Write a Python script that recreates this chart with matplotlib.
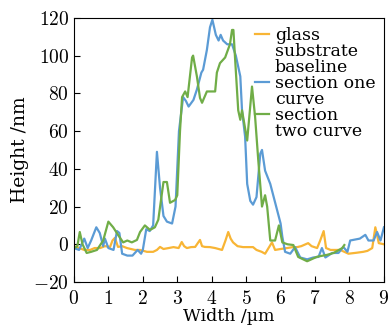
import matplotlib
matplotlib.use("Agg")
import matplotlib.pyplot as plt
from matplotlib.lines import Line2D

plt.rcParams['font.family'] = ['cmr10', 'DejaVu Serif']
plt.rcParams['mathtext.fontset'] = 'cm'
plt.rcParams['axes.formatter.use_mathtext'] = True

# glass substrate baseline
glass_x = [0, 0.15, 0.3, 0.47, 0.6, 0.76, 0.9, 1.05, 1.12, 1.19, 1.28, 1.4, 1.54, 1.77,
           1.92, 2.12, 2.3, 2.41, 2.5, 2.6, 2.75, 2.89, 3.04, 3.13, 3.2, 3.28, 3.4, 3.52,
           3.66, 3.72, 3.8, 3.95, 4.1, 4.3, 4.4, 4.48, 4.55, 4.62, 4.75, 4.91, 5.05, 5.2,
           5.3, 5.45, 5.55, 5.65, 5.75, 5.84, 6.0, 6.19, 6.35, 6.48, 6.6, 6.8, 6.9, 7.06,
           7.15, 7.25, 7.32, 7.45, 7.6, 7.73, 7.85, 7.97, 8.2, 8.4, 8.52, 8.66, 8.75, 8.8,
           8.85, 9.0]
glass_y = [-1, -2, -3, -3, -2, -2, -1, -1.4, 2, 3.4, -1.4, -1, -2, -3,
           -3, -4, -4, -3, -1.4, -2.5, -2, -1.5, -2, 1.2, -1, -2, -1.5, -1.4,
           2.3, -1, -1.4, -1.5, -2, -3, 2, 6.5, 3, 1, -1, -1.5, -1.5, -1.5,
           -3, -4, -5, -2, 1, -3, -2.5, -2, -1.5, -1.5, -1, 0.6, -1, -2,
           2, 7, -2, -3, -3, -3, -4, -5, -4.5, -4, -3.5, -2, 9, 5,
           0.6, 0]

# section one curve
one_x = [0, 0.15, 0.3, 0.4, 0.5, 0.65, 0.75, 0.85, 0.9, 1.0, 1.15, 1.25, 1.32, 1.4,
         1.55, 1.7, 1.85, 1.95, 2.0, 2.1, 2.2, 2.3, 2.41, 2.5, 2.6, 2.7, 2.85, 2.95,
         3.05, 3.17, 3.25, 3.33, 3.47, 3.57, 3.7, 3.75, 3.86, 3.95, 4.02, 4.12, 4.2,
         4.26, 4.33, 4.45, 4.59, 4.7, 4.83, 4.88, 4.97, 5.03, 5.12, 5.2, 5.3, 5.41,
         5.46, 5.55, 5.7, 5.9, 6.0, 6.05, 6.13, 6.28, 6.42, 6.57, 6.77, 6.95, 7.1, 7.2,
         7.3, 7.5, 7.68, 7.82, 7.94, 8.02, 8.3, 8.46, 8.55, 8.7, 8.8, 8.9, 9.0]
one_y = [-2, -3, 3, -2, 2, 9, 6, -1, 3, -2, -3, 7, 6, -5,
         -6, -6, -3, -5, -3, 8, 7, 10, 49, 30, 15, 12, 11, 20,
         60, 78, 76, 73, 76.5, 82, 91, 92.5, 103, 115, 119, 111, 108,
         111, 108, 106, 106, 100, 89, 71, 57, 32, 23, 21, 25, 48,
         50, 39, 32, 18, 11, 4, -4, -5, -1.5, -7, -8, -7, -6.7, -2,
         -7, -4.6, -4.6, -1.4, -4, 2, 3, 5, 2, 2, 6.5, 2, 9]

# section two curve
two_x = [0, 0.1, 0.17, 0.25, 0.37, 0.5, 0.67, 0.85, 1.0, 1.14, 1.28, 1.43, 1.55, 1.68,
         1.83, 1.92, 2.06, 2.21, 2.35, 2.45, 2.6, 2.7, 2.79, 2.94, 3.0, 3.08, 3.14, 3.23,
         3.3, 3.43, 3.46, 3.57, 3.66, 3.72, 3.86, 4.1, 4.15, 4.24, 4.39, 4.53, 4.59,
         4.63, 4.68, 4.77, 4.83, 4.88, 5.03, 5.17, 5.26, 5.35, 5.46, 5.55, 5.61, 5.7,
         5.84, 5.95, 6.05, 6.2, 6.37, 6.51, 6.77, 7.06, 7.35, 7.54, 7.79, 7.85]
two_y = [-2, -1, 6.5, 0, -4.6, -4, -3, 2, 12, 9, 5, 1, 2, 1,
         2.3, 6.5, 10, 7.6, 9, 13, 33, 33, 22, 23.5, 26, 60, 78, 81,
         78, 99, 100, 89, 77.6, 75, 81, 81, 91, 96, 99, 106, 113.6,
         113.6, 98, 71, 66, 71, 55, 83.6, 67.5, 45, 20, 26, 20, 2,
         2, 10, 1, 0, -0.4, -6.7, -9, -6.6, -5.6, -4.6, -2, -0.4]

legend_lines = [['glass', 'substrate', 'baseline'],
                ['section one', 'curve'],
                ['section', 'two curve']]

fig = plt.figure(figsize=(3.89, 3.31), dpi=100)
ax = fig.add_axes([0.19, 0.148, 0.797, 0.798])

l1, = ax.plot(glass_x, glass_y, color='#F8B535', lw=1.6)
l2, = ax.plot(one_x, one_y, color='#5B9BD5', lw=1.6)
l3, = ax.plot(two_x, two_y, color='#70AD47', lw=1.6)

ax.set_xlim(0, 9)
ax.set_ylim(-20, 120)
ax.set_xticks(range(0, 10))
ax.set_yticks(range(-20, 121, 20))
ax.tick_params(direction='in', labelsize=14, length=4, width=0.8)
ax.tick_params(axis='x', pad=6)
ax.set_xlabel('Width /µm', fontsize=12.5, family='DejaVu Serif', labelpad=0)
ax.set_ylabel('Height /nm', fontsize=13.5, family='DejaVu Serif', labelpad=3)

# legend: handle only on the first line of each entry
blank = Line2D([], [], color='none')
handles, labels = [], []
for line, words in zip([l1, l2, l3], legend_lines):
    for i, w in enumerate(words):
        handles.append(line if i == 0 else blank)
        labels.append(w)
leg = ax.legend(handles, labels, loc='upper right', bbox_to_anchor=(1.0, 0.997),
                frameon=False, prop={'family': 'DejaVu Serif', 'size': 12.5},
                handlelength=0.85, handletextpad=0.3,
                labelspacing=-0.06, borderpad=0.0)

fig.savefig('out.png', dpi=100)
